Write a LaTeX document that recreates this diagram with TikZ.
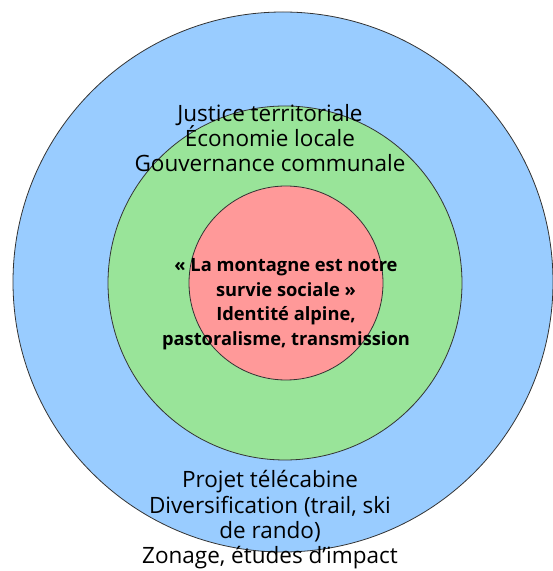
\documentclass[tikz,border=0pt]{standalone}
\usepackage{fontspec}
\setmainfont{Open Sans}
\definecolor{ringblue}{RGB}{153,204,255}
\definecolor{ringgreen}{RGB}{153,228,153}
\definecolor{ringred}{RGB}{255,153,153}
\definecolor{ringline}{RGB}{51,51,51}

\begin{document}
\begin{tikzpicture}[x=1pt, y=1pt,
	ring/.style={circle, draw=ringline, line width=0.8pt, inner sep=0pt},
	outertext/.style={align=center, font=\fontsize{22.5}{25.3}\selectfont},
	coretext/.style={align=center, font=\bfseries\fontsize{18.3}{24.5}\selectfont}]
			\useasboundingbox (0,0) rectangle (553,571);
			\node[ring, fill=ringblue, minimum size=540] (outer) at (283,289) {};
			\node[ring, fill=ringgreen, minimum size=354] (middle) at (285,288) {};
			\node[ring, fill=ringred, minimum size=194] (core) at (286,288) {};
			\node[outertext] (top) at (270,433) {Justice territoriale\\Économie locale\\Gouvernance communale};
			\node[outertext] (bottom) at (270,51) {Projet télécabine\\Diversification (trail, ski\\de rando)\\Zonage, études d’impact};
			\node[coretext] (motto) at (286,267) {« La montagne est notre\\survie sociale »\\Identité alpine,\\pastoralisme, transmission};
			\end{tikzpicture}
\end{document}
